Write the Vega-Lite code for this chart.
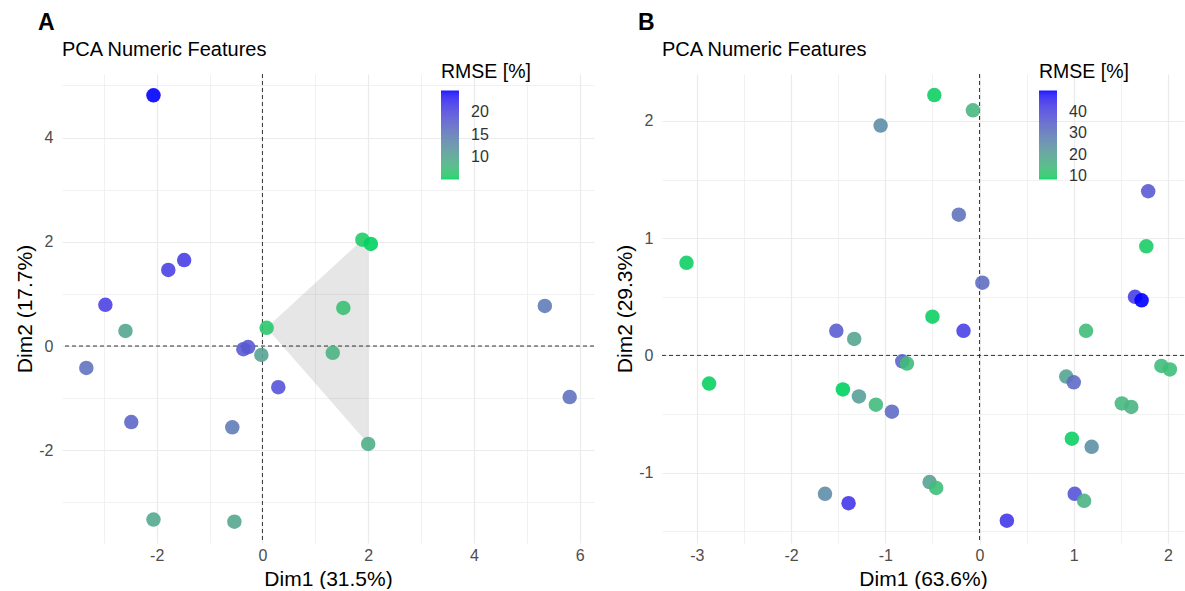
{
  "$schema": "https://vega.github.io/schema/vega-lite/v6.json",
  "padding": {"left": 14, "top": 12, "right": 0, "bottom": 0},
  "spacing": 19,
  "resolve": {"scale": {"color": "independent"}, "legend": {"color": "independent"}},
  "config": {
    "font": "Liberation Sans",
    "view": {"stroke": null},
    "axis": {"domain": false, "ticks": false, "labelFontSize": 16, "labelColor": "#4d4d4d", "titleFontSize": 21, "titleFontWeight": "normal", "titleColor": "#000000", "gridColor": "#ebebeb", "titlePadding": 3},
    "axisX": {"labelPadding": 4, "titlePadding": 5},
    "axisY": {"labelPadding": 9},
    "legend": {"titleFontSize": 19.5, "titleFontWeight": "normal", "titleColor": "#000000", "labelFontSize": 16, "labelColor": "#333333", "gradientThickness": 18, "gradientLength": 89, "gradientStrokeWidth": 0, "titlePadding": 8, "direction": "vertical"},
    "title": {"anchor": "start", "frame": "group", "fontSize": 23, "fontWeight": "bold", "color": "#000000", "subtitleFontSize": 20, "subtitleColor": "#000000", "subtitlePadding": 5, "offset": 3, "dx": -24}
  },
  "hconcat": [
    {
      "width": 532,
      "height": 469,
      "title": {"text": "A", "subtitle": "\u200b\u00a0\u00a0\u00a0\u00a0\u200aPCA Numeric Features"},
      "layer": [
        {
          "data": {"values": [
            {"x": 0.08, "y": 0.35, "y2": 0.35},
            {"x": 1.89, "y": 2.04, "y2": -1.75},
            {"x": 2.0, "y": 1.98, "y2": -1.88}
          ]},
          "mark": {"type": "area", "color": "#808080", "opacity": 0.2},
          "encoding": {
            "x": {"field": "x", "type": "quantitative", "title": "Dim1 (31.5%)",
              "scale": {"domain": [-3.79, 6.27], "nice": false, "zero": false},
              "axis": {"values": [-3, -2, -1, 0, 1, 2, 3, 4, 5, 6], "labelExpr": "datum.value % 2 === 0 ? '' + datum.value : ''",
                "gridWidth": {"condition": {"test": "datum.value % 2 === 0", "value": 1.2}, "value": 0.7}}},
            "y": {"field": "y", "type": "quantitative", "title": "Dim2 (17.7%)",
              "scale": {"domain": [-3.78, 5.22], "nice": false, "zero": false},
              "axis": {"values": [-3, -2, -1, 0, 1, 2, 3, 4, 5], "labelExpr": "datum.value % 2 === 0 ? '' + datum.value : ''",
                "gridWidth": {"condition": {"test": "datum.value % 2 === 0", "value": 1.2}, "value": 0.7}}},
            "y2": {"field": "y2"}
          }
        },
        {
          "data": {"values": [{"v": 0}]},
          "mark": {"type": "rule", "color": "#333333", "strokeDash": [4, 3], "strokeWidth": 1},
          "encoding": {"x": {"field": "v", "type": "quantitative", "title": "Dim1 (31.5%)"}}
        },
        {
          "data": {"values": [{"v": 0}]},
          "mark": {"type": "rule", "color": "#333333", "strokeDash": [4, 3], "strokeWidth": 1},
          "encoding": {"y": {"field": "v", "type": "quantitative", "title": "Dim2 (17.7%)"}}
        },
        {
          "data": {"values": [
            {"x": -2.06, "y": 4.81, "rmse": 24.6},
            {"x": -1.78, "y": 1.46, "rmse": 20.7},
            {"x": -1.48, "y": 1.65, "rmse": 21.1},
            {"x": -2.97, "y": 0.79, "rmse": 20.7},
            {"x": -2.59, "y": 0.29, "rmse": 10.0},
            {"x": -3.33, "y": -0.42, "rmse": 15.9},
            {"x": -2.48, "y": -1.46, "rmse": 17.2},
            {"x": -2.06, "y": -3.33, "rmse": 9.7},
            {"x": -0.53, "y": -3.37, "rmse": 10.0},
            {"x": -0.57, "y": -1.56, "rmse": 14.9},
            {"x": -0.36, "y": -0.06, "rmse": 18.4},
            {"x": -0.27, "y": -0.02, "rmse": 18.6},
            {"x": -0.02, "y": -0.17, "rmse": 10.6},
            {"x": 0.08, "y": 0.35, "rmse": 6.2},
            {"x": 0.3, "y": -0.79, "rmse": 19.2},
            {"x": 1.53, "y": 0.73, "rmse": 7.1},
            {"x": 1.33, "y": -0.13, "rmse": 8.5},
            {"x": 1.89, "y": 2.04, "rmse": 5.8},
            {"x": 2.05, "y": 1.96, "rmse": 5.2},
            {"x": 2.0, "y": -1.88, "rmse": 9.1},
            {"x": 5.34, "y": 0.77, "rmse": 14.9},
            {"x": 5.81, "y": -0.98, "rmse": 15.9}
          ]},
          "mark": {"type": "circle", "size": 210, "opacity": 0.9},
          "encoding": {
            "x": {"field": "x", "type": "quantitative", "title": "Dim1 (31.5%)"},
            "y": {"field": "y", "type": "quantitative", "title": "Dim2 (17.7%)"},
            "color": {"field": "rmse", "type": "quantitative", "title": "RMSE [%]",
              "scale": {"domain": [5.2, 24.6], "range": ["#00D162", "#0000FF"], "interpolate": "lab"},
              "legend": {"orient": "none", "legendX": 379, "legendY": -11, "values": [10, 15, 20], "labelOffset": 12}}
          }
        }
      ]
    },
    {
      "width": 522,
      "height": 469,
      "title": {"text": "B", "subtitle": "\u200b\u00a0\u00a0\u00a0\u00a0\u200aPCA Numeric Features"},
      "layer": [
        {
          "data": {"values": [{"v": 0}]},
          "mark": {"type": "rule", "color": "#333333", "strokeDash": [4, 3], "strokeWidth": 1},
          "encoding": {"x": {"field": "v", "type": "quantitative", "title": "Dim1 (63.6%)",
              "scale": {"domain": [-3.37, 2.17], "nice": false, "zero": false},
              "axis": {"values": [-3, -2.5, -2, -1.5, -1, -0.5, 0, 0.5, 1, 1.5, 2], "labelExpr": "datum.value % 1 === 0 ? '' + datum.value : ''",
                "gridWidth": {"condition": {"test": "datum.value % 1 === 0", "value": 1.2}, "value": 0.7}}}}
        },
        {
          "data": {"values": [{"v": 0}]},
          "mark": {"type": "rule", "color": "#333333", "strokeDash": [4, 3], "strokeWidth": 1},
          "encoding": {"y": {"field": "v", "type": "quantitative", "title": "Dim2 (29.3%)",
              "scale": {"domain": [-1.6, 2.4], "nice": false, "zero": false},
              "axis": {"values": [-1.5, -1, -0.5, 0, 0.5, 1, 1.5, 2], "labelExpr": "datum.value % 1 === 0 ? '' + datum.value : ''",
                "gridWidth": {"condition": {"test": "datum.value % 1 === 0", "value": 1.2}, "value": 0.7}}}}
        },
        {
          "data": {"values": [
            {"x": -0.48, "y": 2.22, "rmse": 9.0},
            {"x": -0.07, "y": 2.09, "rmse": 15.0},
            {"x": -1.05, "y": 1.96, "rmse": 25.0},
            {"x": -0.22, "y": 1.2, "rmse": 31.0},
            {"x": -3.11, "y": 0.79, "rmse": 9.0},
            {"x": 0.03, "y": 0.62, "rmse": 32.0},
            {"x": 1.79, "y": 1.4, "rmse": 36.5},
            {"x": 1.77, "y": 0.93, "rmse": 9.5},
            {"x": 1.65, "y": 0.5, "rmse": 42.3},
            {"x": 1.72, "y": 0.47, "rmse": 49.7},
            {"x": -1.52, "y": 0.21, "rmse": 36.0},
            {"x": -1.33, "y": 0.14, "rmse": 19.0},
            {"x": -0.5, "y": 0.33, "rmse": 9.0},
            {"x": -0.17, "y": 0.21, "rmse": 42.0},
            {"x": 1.13, "y": 0.21, "rmse": 13.5},
            {"x": -0.82, "y": -0.05, "rmse": 34.0},
            {"x": -0.77, "y": -0.07, "rmse": 13.5},
            {"x": -2.87, "y": -0.24, "rmse": 8.8},
            {"x": -1.45, "y": -0.29, "rmse": 8.6},
            {"x": -1.28, "y": -0.35, "rmse": 21.0},
            {"x": -1.1, "y": -0.42, "rmse": 14.0},
            {"x": -0.93, "y": -0.48, "rmse": 33.0},
            {"x": 0.92, "y": -0.18, "rmse": 19.5},
            {"x": 1.0, "y": -0.23, "rmse": 33.0},
            {"x": 1.93, "y": -0.09, "rmse": 14.0},
            {"x": 2.02, "y": -0.12, "rmse": 13.0},
            {"x": 1.51, "y": -0.41, "rmse": 15.0},
            {"x": 1.61, "y": -0.44, "rmse": 15.5},
            {"x": 0.98, "y": -0.71, "rmse": 9.0},
            {"x": 1.19, "y": -0.78, "rmse": 24.0},
            {"x": -0.53, "y": -1.08, "rmse": 20.0},
            {"x": -0.46, "y": -1.13, "rmse": 13.0},
            {"x": -1.64, "y": -1.18, "rmse": 25.0},
            {"x": -1.39, "y": -1.26, "rmse": 43.5},
            {"x": 1.01, "y": -1.18, "rmse": 38.0},
            {"x": 1.11, "y": -1.24, "rmse": 16.0},
            {"x": 0.29, "y": -1.41, "rmse": 43.5}
          ]},
          "mark": {"type": "circle", "size": 210, "opacity": 0.9},
          "encoding": {
            "x": {"field": "x", "type": "quantitative", "title": "Dim1 (63.6%)"},
            "y": {"field": "y", "type": "quantitative", "title": "Dim2 (29.3%)"},
            "color": {"field": "rmse", "type": "quantitative", "title": "RMSE [%]",
              "scale": {"domain": [8.6, 49.7], "range": ["#00D162", "#0000FF"], "interpolate": "lab"},
              "legend": {"orient": "none", "legendX": 377, "legendY": -11, "values": [10, 20, 30, 40], "labelOffset": 12}}
          }
        }
      ]
    }
  ]
}
